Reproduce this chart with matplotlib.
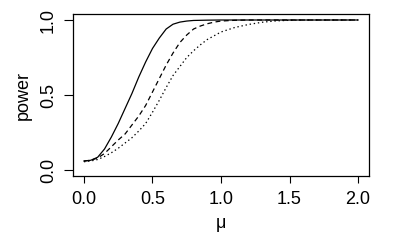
import matplotlib
matplotlib.use("Agg")
import matplotlib.pyplot as plt

plt.rcParams['font.family'] = ['Liberation Sans', 'DejaVu Sans']
plt.rcParams['lines.scale_dashes'] = False

mu_solid = [0, 0.05, 0.1, 0.15, 0.2, 0.25, 0.3, 0.35, 0.4, 0.45, 0.5, 0.55, 0.6, 0.65, 0.7, 0.75, 0.8, 0.9, 1.0, 2.0]
p_solid = [0.06, 0.065, 0.085, 0.14, 0.22, 0.31, 0.41, 0.51, 0.62, 0.72, 0.81, 0.88, 0.94, 0.972, 0.986, 0.993, 0.997, 0.999, 1.0, 1.0]

mu_dashed = [0, 0.05, 0.1, 0.15, 0.2, 0.25, 0.3, 0.35, 0.4, 0.45, 0.5, 0.55, 0.6, 0.65, 0.7, 0.75, 0.8, 0.85, 0.9, 0.95, 1.0, 1.1, 1.2, 2.0]
p_dashed = [0.06, 0.065, 0.08, 0.11, 0.155, 0.2, 0.24, 0.3, 0.36, 0.43, 0.52, 0.61, 0.70, 0.78, 0.85, 0.90, 0.94, 0.96, 0.975, 0.986, 0.993, 0.998, 1.0, 1.0]

mu_dotted = [0, 0.05, 0.1, 0.15, 0.2, 0.25, 0.3, 0.35, 0.4, 0.45, 0.5, 0.55, 0.6, 0.65, 0.7, 0.75, 0.8, 0.85, 0.9, 0.95, 1.0, 1.1, 1.2, 1.3, 1.4, 1.5, 1.6, 2.0]
p_dotted = [0.055, 0.06, 0.07, 0.09, 0.115, 0.145, 0.18, 0.215, 0.26, 0.31, 0.385, 0.465, 0.55, 0.63, 0.69, 0.75, 0.795, 0.835, 0.87, 0.895, 0.92, 0.95, 0.97, 0.985, 0.994, 0.998, 1.0, 1.0]

x_ticks = [0.0, 0.5, 1.0, 1.5, 2.0]
y_ticks = [0.0, 0.5, 1.0]

fig = plt.figure(figsize=(4, 2.5), dpi=100)
ax = fig.add_axes([0.1825, 0.296, 0.74, 0.648])
lw = 0.9
ax.plot(mu_solid, p_solid, color='black', lw=lw, linestyle='-')
ax.plot(mu_dashed, p_dashed, color='black', lw=lw, linestyle=(0, (3.5, 2.5)))
ax.plot(mu_dotted, p_dotted, color='black', lw=lw, linestyle=(0, (1, 2)))

ax.set_xlim(-0.08, 2.08)
ax.set_ylim(-0.04, 1.04)
ax.set_xticks(x_ticks)
ax.set_xticklabels([f"{v:.1f}" for v in x_ticks])
ax.set_yticks(y_ticks)
ax.set_yticklabels([f"{v:.1f}" for v in y_ticks], rotation=90, va='center')
ax.tick_params(axis='x', length=5, width=0.8, pad=6, labelsize=13)
ax.tick_params(axis='y', length=6.5, width=0.8, pad=5, labelsize=13)
for s in ax.spines.values():
    s.set_linewidth(0.9)
ax.set_xlabel('μ', fontsize=13, labelpad=5)
ax.set_ylabel('power', fontsize=13, labelpad=6)
fig.savefig('out.png', dpi=100)
